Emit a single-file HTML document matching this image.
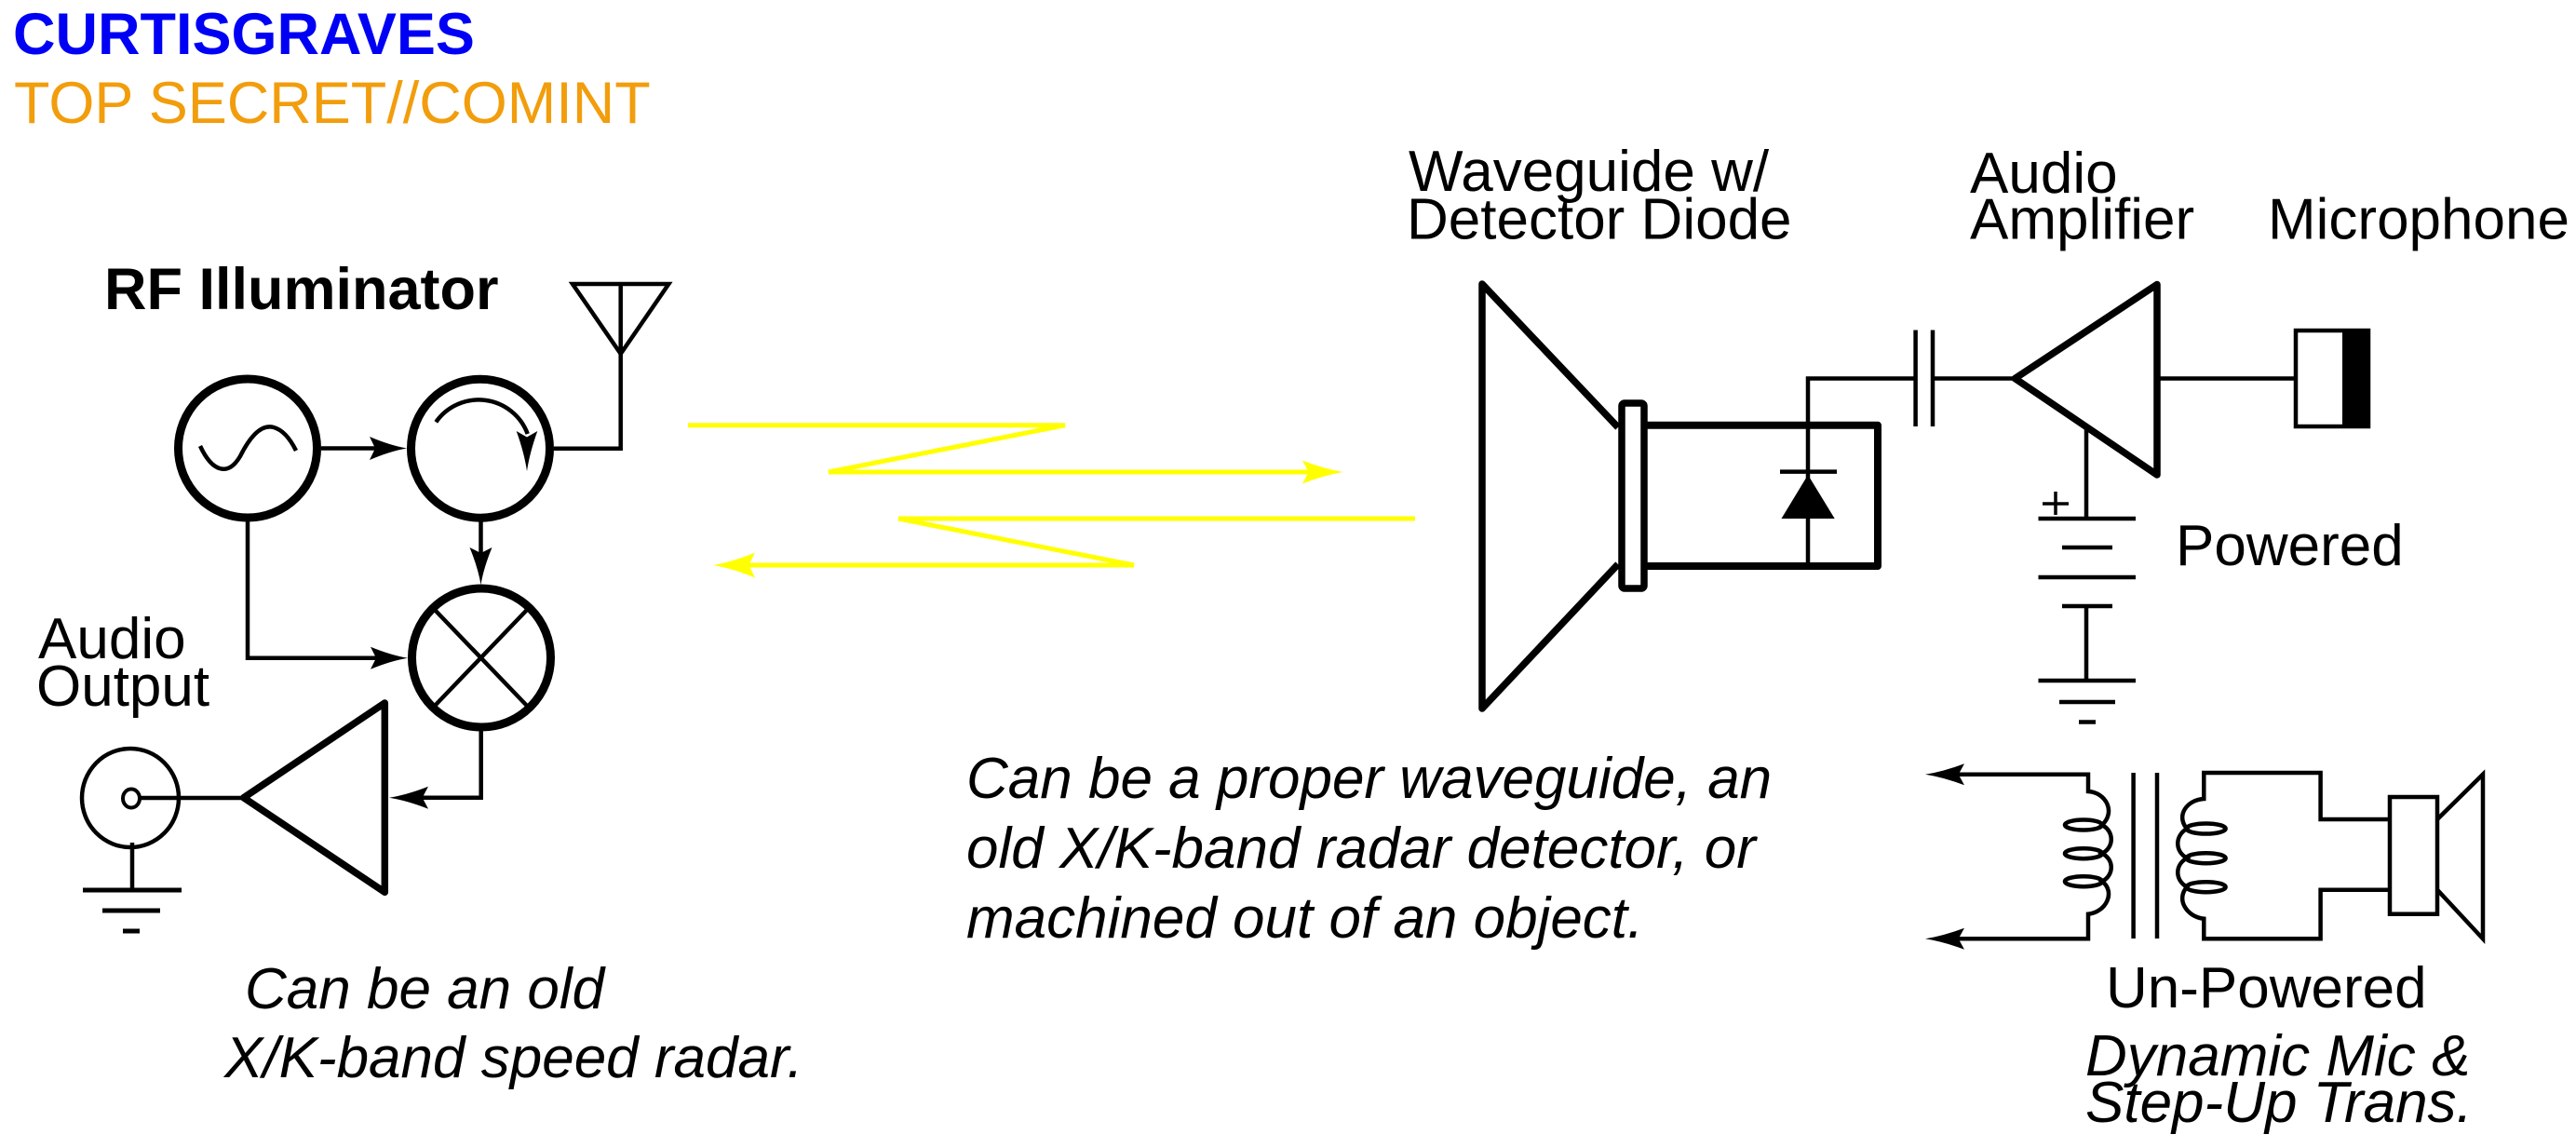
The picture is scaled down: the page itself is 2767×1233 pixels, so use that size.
<!DOCTYPE html>
<html>
<head>
<meta charset="utf-8">
<style>
html,body{margin:0;padding:0;background:#fff;}
svg{display:block;}
text{font-family:"Liberation Sans",Arial,sans-serif;}
</style>
</head>
<body>
<svg width="2767" height="1233" viewBox="0 0 2767 1233" xmlns="http://www.w3.org/2000/svg">
<rect x="0" y="0" width="2767" height="1233" fill="#fff"/>

<!-- Header -->
<text x="14" y="58" font-size="63" font-weight="bold" fill="#0000f5">CURTISGRAVES</text>
<text x="15" y="132" font-size="63" fill="#f29d0c">TOP SECRET//COMINT</text>

<!-- Labels left -->
<text x="112" y="332" font-size="63" font-weight="bold" fill="#000">RF Illuminator</text>
<text x="41" y="707" font-size="62" fill="#000">Audio</text>
<text x="39" y="758" font-size="62" fill="#000">Output</text>
<text x="263" y="1083" font-size="62" font-style="italic" fill="#000">Can be an old</text>
<text x="241" y="1157" font-size="62" font-style="italic" fill="#000">X/K-band speed radar.</text>

<g fill="none" stroke="#000" stroke-width="4.5">
  <!-- Oscillator -->
  <circle cx="266" cy="481.5" r="74.5" stroke-width="9"/>
  <path d="M215,479 C228,507 245,512 258,490 C268,470 280,455 294,459 C305,462 313,474 318,484"/>
  <!-- Circulator -->
  <circle cx="516" cy="481.7" r="74.5" stroke-width="9"/>
  <path d="M468.3,453.3 A56,56 0 0 1 566.7,466"/>
  <!-- Mixer -->
  <circle cx="517" cy="706.5" r="74.5" stroke-width="9"/>
  <line x1="467" y1="655" x2="566" y2="758"/>
  <line x1="566" y1="655" x2="467" y2="758"/>
  <!-- wires -->
  <line x1="345" y1="481.5" x2="405" y2="481.5"/>
  <path d="M595,481.7 H666.7 V305"/>
  <path d="M615,305 H718.3 L666.7,380 Z"/>
  <line x1="516.5" y1="560" x2="516.5" y2="595"/>
  <path d="M266,560 V706.7 H405"/>
  <path d="M516.7,785 V856.7 H450"/>
  <!-- Audio amp -->
  <path d="M413.3,755 L261.7,856.7 L413.3,958.3 Z" stroke-width="7.5" stroke-linejoin="round"/>
  <!-- coax -->
  <ellipse cx="140" cy="857" rx="52" ry="53"/>
  <ellipse cx="141" cy="857.5" rx="9" ry="10" stroke-width="4"/>
  <line x1="150" y1="857" x2="262" y2="857"/>
  <line x1="142" y1="905" x2="142" y2="956"/>
  <line x1="89" y1="956" x2="195" y2="956" stroke-width="5"/>
  <line x1="110" y1="978" x2="172" y2="978" stroke-width="5"/>
  <line x1="132" y1="1000" x2="150" y2="1000" stroke-width="5"/>
</g>
<g fill="#000">
  <path d="M437,481.5 Q419,478.4 397,469 L403,481.5 L397,494 Q419,484.6 437,481.5Z"/>
  <path d="M516.5,628 Q513.5,610 504.5,588 L516.5,594 L528.5,588 Q519.5,610 516.5,628Z"/>
  <path d="M438,706.7 Q420,703.7 398,694.7 L404,706.7 L398,718.7 Q420,709.7 438,706.7Z"/>
  <path d="M418,856.7 Q436.9,853.7 460,844.7 L453.7,856.7 L460,868.7 Q436.9,859.7 418,856.7Z"/>
  <path d="M566,506 Q563.2,486.7 554.7,463 L566,469.5 L577.3,463 Q568.8,486.7 566,506Z"/>
</g>

<!-- Yellow RF -->
<g fill="none" stroke="#ffff00" stroke-width="5">
  <path d="M739,456.7 H1144 L890,507 H1420"/>
  <path d="M1520,557 H965 L1218,607 H790"/>
</g>
<g fill="#ffff00">
  <path d="M1443,507 Q1423.2,503.9 1399,494.5 L1405.6,507 L1399,519.5 Q1423.2,510.1 1443,507Z"/>
  <path d="M766,607 Q786.3,603.6 811,593.5 L804.3,607 L811,620.5 Q786.3,610.4 766,607Z"/>
</g>

<!-- Middle text -->
<text x="1038" y="857" font-size="62" font-style="italic" fill="#000">Can be a proper waveguide, an</text>
<text x="1038" y="932" font-size="62" font-style="italic" fill="#000">old X/K-band radar detector, or</text>
<text x="1038" y="1007" font-size="62" font-style="italic" fill="#000">machined out of an object.</text>

<!-- Right labels -->
<text x="1513" y="205" font-size="62" fill="#000">Waveguide w/</text>
<text x="1511" y="256.5" font-size="62" fill="#000">Detector Diode</text>
<text x="2116" y="207" font-size="62" fill="#000">Audio</text>
<text x="2116" y="256.5" font-size="62" fill="#000">Amplifier</text>
<text x="2436" y="256.5" font-size="62" fill="#000">Microphone</text>
<text x="2337" y="607" font-size="62" fill="#000">Powered</text>
<text x="2262" y="1082" font-size="62" fill="#000">Un-Powered</text>
<text x="2240" y="1155" font-size="62" font-style="italic" fill="#000">Dynamic Mic &amp;</text>
<text x="2240" y="1205" font-size="62" font-style="italic" fill="#000">Step-Up Trans.</text>

<g fill="none" stroke="#000" stroke-width="4.5">
  <!-- Horn -->
  <path d="M1738,459 L1592,305 V761 L1738,606" stroke-width="7.5" stroke-linejoin="round"/>
  <rect x="1742" y="433" width="24" height="199" rx="3" stroke-width="7.5"/>
  <path d="M1766,456.7 H2017 V608 H1766" stroke-width="8" stroke-linejoin="round"/>
  <!-- diode -->
  <path d="M1942,608 V406.5 H2057.6"/>
  <line x1="1912" y1="506.6" x2="1973" y2="506.6"/>
  <!-- capacitor -->
  <line x1="2057.6" y1="354.5" x2="2057.6" y2="458"/>
  <line x1="2076" y1="354.5" x2="2076" y2="458"/>
  <line x1="2076" y1="406.5" x2="2164" y2="406.5"/>
  <!-- amp -->
  <path d="M2317,305.5 L2164.4,406.5 L2317,510 Z" stroke-width="7.5" stroke-linejoin="round"/>
  <line x1="2317" y1="406.5" x2="2466" y2="406.5"/>
  <rect x="2466" y="355" width="78" height="103"/>
  <!-- battery -->
  <line x1="2241" y1="459" x2="2241" y2="557"/>
  <line x1="2189.5" y1="557" x2="2294" y2="557"/>
  <line x1="2215" y1="588" x2="2269" y2="588"/>
  <line x1="2189.5" y1="620" x2="2294" y2="620"/>
  <line x1="2215" y1="651" x2="2269" y2="651"/>
  <line x1="2241" y1="651" x2="2241" y2="731"/>
  <line x1="2189.5" y1="731" x2="2294" y2="731"/>
  <line x1="2212" y1="754" x2="2272" y2="754"/>
  <line x1="2233" y1="775.5" x2="2251" y2="775.5"/>
  <line x1="2194" y1="541" x2="2222" y2="541" stroke-width="3.5"/>
  <line x1="2208" y1="528" x2="2208" y2="553" stroke-width="3.5"/>
  <!-- transformer -->
  <path d="M2100,831.7 H2243 V850 C2262,851 2273,872 2258,886 C2271,893 2271,910 2258,916.7 C2271,923 2271,940 2258,946.7 C2273,958 2262,980 2243,981.7 V1008.3 H2100"/>
  <ellipse cx="2238" cy="886" rx="20" ry="5.5"/>
  <ellipse cx="2238" cy="916.7" rx="20" ry="5.5"/>
  <ellipse cx="2238" cy="946.7" rx="20" ry="5.5"/>
  <line x1="2291.6" y1="830" x2="2291.6" y2="1008"/>
  <line x1="2317" y1="830" x2="2317" y2="1008"/>
  <path d="M2567,880 H2492.6 V830 H2367.3 V858 C2349,859 2337,876 2349,890 C2336,898 2336,914 2349,921.7 C2336,929 2336,945 2349,952.7 C2337,966 2349,985 2367.3,986.7 V1008.3 H2492.6 V955.7 H2567"/>
  <ellipse cx="2369.6" cy="890" rx="21" ry="5.5"/>
  <ellipse cx="2369.6" cy="921.7" rx="21" ry="5.5"/>
  <ellipse cx="2369.6" cy="952.7" rx="21" ry="5.5"/>
  <rect x="2567" y="856" width="51" height="125.7"/>
  <path d="M2618,880 L2667,831.7 V1008.3 L2618,955.7"/>
</g>
<g fill="#000">
  <path d="M1942,510 L1913.5,557 L1970.7,557 Z"/>
  <rect x="2516" y="355" width="28" height="103"/>
  <path d="M2068,831.7 Q2086.9,828.8 2110,820.2 L2103.7,831.7 L2110,843.2 Q2086.9,834.6 2068,831.7Z"/>
  <path d="M2068,1008.3 Q2086.9,1005.4 2110,996.8 L2103.7,1008.3 L2110,1019.8 Q2086.9,1011.2 2068,1008.3Z"/>
</g>
</svg>
</body>
</html>
